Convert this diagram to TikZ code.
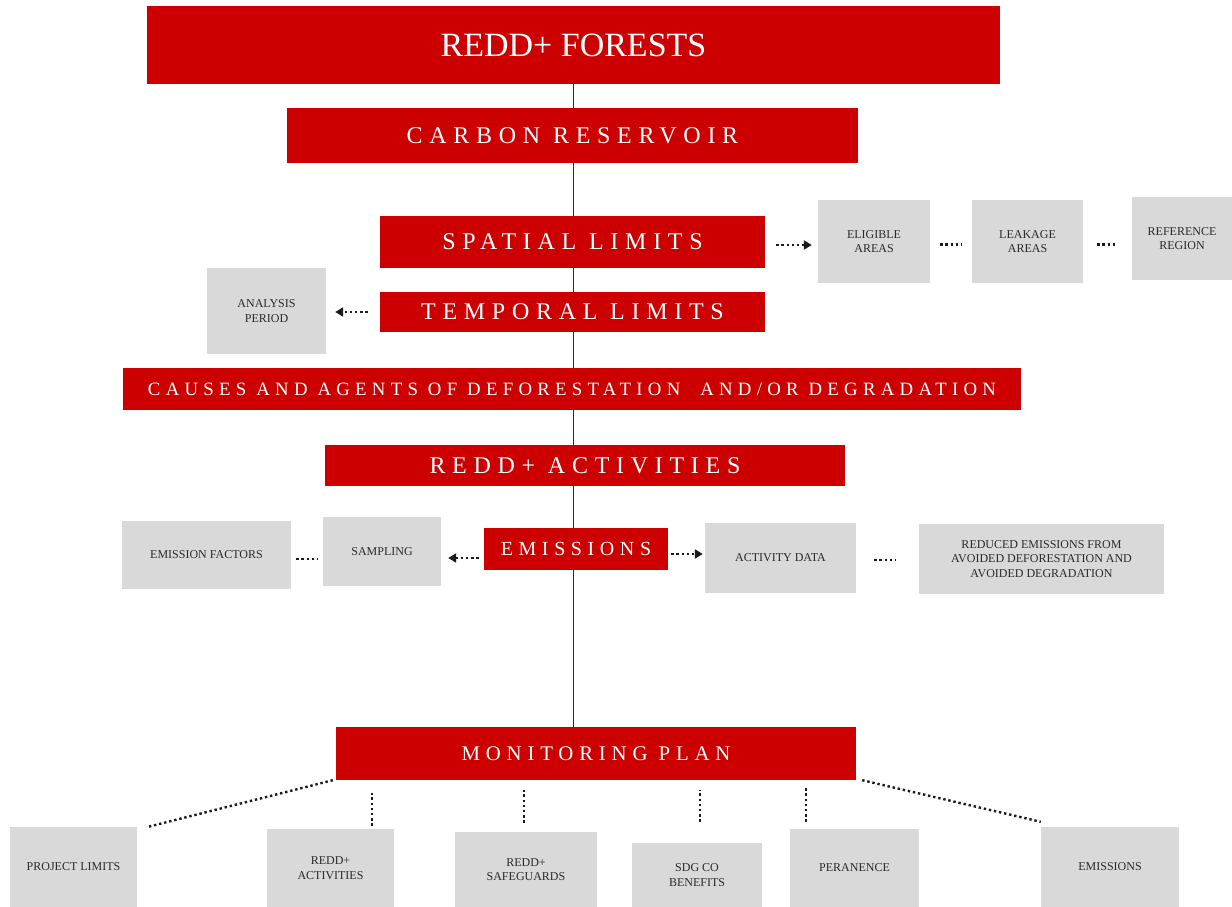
\documentclass[tikz,border=0pt]{standalone}
\usepackage{fontspec}
\usepackage{xcolor}
\usepackage{tikz}
\setmainfont{Liberation Serif}
\newfontfamily\spacedfont[LetterSpace=28]{Liberation Serif}
\usetikzlibrary{arrows.meta, backgrounds}

\definecolor{reddred}{HTML}{CC0000}
\definecolor{boxgrey}{HTML}{D9D9D9}
\definecolor{labelgrey}{HTML}{2A2A2A}
\definecolor{dotgrey}{HTML}{1A1A1A}

\tikzset{
    redbox/.style={fill=reddred, text=white, inner sep=0pt, align=center},
    greybox/.style={fill=boxgrey, text=labelgrey, inner sep=0pt, align=center,
        font=\fontsize{12}{14.5}\selectfont},
    dotline/.style={draw=dotgrey, line width=2.4pt, dash pattern=on 2.4pt off 2.8pt},
    dotarrow/.style={dotline, -{Triangle[length=8pt, width=9pt]}}
}

\newcommand{\spacedsize}[1]{\spacedfont\fontsize{#1}{#1}\selectfont}

\begin{document}
\begin{tikzpicture}[x=1pt, y=-1pt]
        \useasboundingbox (0,0) rectangle (1232,907);

        % main column
        \node[redbox, minimum width=853pt, minimum height=78pt, font=\fontsize{34}{34}\selectfont] (forests) at (573.5,45) {REDD+ FORESTS};
        \node[redbox, minimum width=571pt, minimum height=55pt, font=\spacedsize{24}] (carbon) at (572.5,135.5) {CARBON RESERVOIR};
        \node[redbox, minimum width=385pt, minimum height=52pt, font=\spacedsize{24}] (spatial) at (572.5,242) {SPATIAL LIMITS};
        \node[redbox, minimum width=385pt, minimum height=40pt, font=\spacedsize{24}] (temporal) at (572.5,312) {TEMPORAL LIMITS};
        \node[redbox, minimum width=898pt, minimum height=42pt, font=\spacedsize{18.8}] (causes) at (572,389) {CAUSES AND AGENTS OF DEFORESTATION \ AND/OR DEGRADATION};
        \node[redbox, minimum width=520pt, minimum height=41pt, font=\spacedsize{24}] (activities) at (585,465.5) {REDD+ ACTIVITIES};
        \node[redbox, minimum width=184pt, minimum height=42pt, font=\spacedsize{20}] (emissions) at (576,549) {EMISSIONS};
        \node[redbox, minimum width=520pt, minimum height=53pt, font=\spacedsize{20.8}] (monitor) at (596,753.5) {MONITORING PLAN};

        \begin{scope}[on background layer]
            \draw[labelgrey, line width=1.2pt] (forests.south) -- (forests.south |- monitor.north);
        \end{scope}

        % spatial limits
        \node[greybox, minimum width=112pt, minimum height=83pt] (eligible) at (874,241.5) {ELIGIBLE\\AREAS};
        \node[greybox, minimum width=111pt, minimum height=83pt] (leakage) at (1027.5,241.5) {LEAKAGE\\AREAS};
        \node[greybox, minimum width=100pt, minimum height=83pt] (reference) at (1182,238.5) {REFERENCE\\REGION};
        \draw[dotarrow] ([xshift=11pt, yshift=-3pt]spatial.east) -- ([xshift=-6pt, yshift=-3pt]spatial.east -| eligible.west);
        \draw[dotline] ([xshift=10pt, yshift=-3pt]eligible.east) -- ([xshift=-10pt, yshift=-3pt]leakage.west);
        \draw[dotline] ([xshift=14pt, yshift=-3pt]leakage.east) -- ([xshift=-14pt, yshift=-3pt]leakage.east -| reference.west);

        % temporal limits
        \node[greybox, minimum width=119pt, minimum height=86pt] (analysis) at (266.5,311) {ANALYSIS\\PERIOD};
        \draw[dotarrow] ([xshift=-12pt]temporal.west) -- ([xshift=9pt]temporal.west -| analysis.east);

        % emissions
        \node[greybox, minimum width=169pt, minimum height=68pt] (factors) at (206.5,555) {EMISSION FACTORS};
        \node[greybox, minimum width=118pt, minimum height=69pt] (sampling) at (382,551.5) {SAMPLING};
        \node[greybox, minimum width=151pt, minimum height=70pt] (actdata) at (780.5,558) {ACTIVITY DATA};
        \node[greybox, minimum width=245pt, minimum height=70pt] (reduced) at (1041.5,559) {REDUCED EMISSIONS FROM\\AVOIDED DEFORESTATION AND\\AVOIDED DEGRADATION};
        \draw[dotarrow] ([xshift=-5pt, yshift=-9pt]emissions.west) -- ([xshift=7pt, yshift=-9pt]emissions.west -| sampling.east);
        \draw[dotline] ([xshift=5pt, yshift=-4pt]factors.east) -- ([xshift=-5pt, yshift=-4pt]factors.east -| sampling.west);
        \draw[dotarrow] ([xshift=3pt, yshift=-5pt]emissions.east) -- ([xshift=-2pt, yshift=-5pt]emissions.east -| actdata.west);
        \draw[dotline] ([xshift=18pt, yshift=-2pt]actdata.east) -- ([xshift=-23pt, yshift=-2pt]actdata.east -| reduced.west);

        % monitoring plan
        \node[greybox, minimum width=127pt, minimum height=80pt] (project) at (73.5,867) {PROJECT LIMITS};
        \node[greybox, minimum width=127pt, minimum height=78pt] (redd) at (330.5,868) {REDD+\\ACTIVITIES};
        \node[greybox, minimum width=142pt, minimum height=75pt] (safeguards) at (526,869.5) {REDD+\\SAFEGUARDS};
        \node[greybox, minimum width=130pt, minimum height=64pt] (sdg) at (697,875) {SDG CO\\BENEFITS};
        \node[greybox, minimum width=129pt, minimum height=78pt] (peranence) at (854.5,868) {PERANENCE};
        \node[greybox, minimum width=138pt, minimum height=80pt] (monemissions) at (1110,867) {EMISSIONS};
        \draw[dotline] ([xshift=-3pt]monitor.south west) -- ([xshift=11pt]project.north east);
        \draw[dotline] ([xshift=-22pt, yshift=3pt]redd.north east) -- ++(0,-33);
        \draw[dotline] ([xshift=-2pt, yshift=9pt]safeguards.north) -- ++(0,-33);
        \draw[dotline] ([xshift=3pt, yshift=21pt]sdg.north) -- ++(0,-32);
        \draw[dotline] ([xshift=16pt, yshift=7pt]peranence.north west) -- ++(0,-34);
        \draw[dotline] ([xshift=6pt]monitor.south east) -- ([yshift=5pt]monemissions.north west);

    \end{tikzpicture}
\end{document}
